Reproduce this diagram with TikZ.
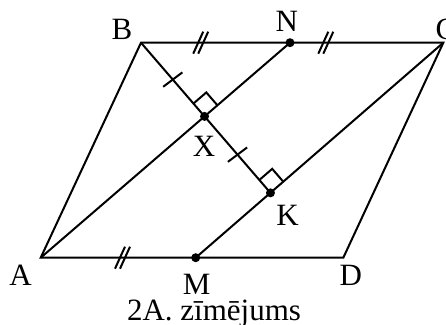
\documentclass[tikz,border=0pt]{standalone}
\usepackage{fontspec}
\setmainfont{Liberation Serif}
\usetikzlibrary{calc}
\begin{document}
\begin{tikzpicture}[x=1bp,y=-1bp,
  seg/.style={line width=2bp},
  lbl/.style={anchor=base, inner sep=0pt, font=\fontsize{31bp}{36bp}\selectfont},
  dotpt/.style={circle, fill=black, inner sep=0pt, minimum size=9bp},
  dbltick/.pic={\draw[line width=2bp] (-7.5,11)--(2.5,-11) (-2.5,11)--(7.5,-11);},
  sgltick/.pic={\draw[line width=2bp] (-9.6,7.2)--(9.6,-7.2);}]
\useasboundingbox (0,0) rectangle (446,324);
\coordinate (A) at (40.7,257.7);
\coordinate (B) at (141,42.7);
\coordinate (C) at (443.3,42.7);
\coordinate (D) at (343.3,257.7);
\coordinate (N) at (290,42.7);
\coordinate (M) at (195.7,257.7);
\coordinate (X) at ($(A)!(B)!(N)$);
\coordinate (K) at (intersection of B--X and M--C);
% sides and segments
\draw[seg] (A) -- (B) -- (C) -- (D) -- cycle;
\draw[seg] (A) -- (N);
\draw[seg] (M) -- (C);
\draw[seg] (B) -- (K);
% right angles
\coordinate (xb) at ($(X)!17bp!(B)$);
\coordinate (xn) at ($(X)!17bp!(N)$);
\draw[seg] (xb) -- ($(xb)+(xn)-(X)$) -- (xn);
\coordinate (kx) at ($(K)!17bp!(X)$);
\coordinate (kc) at ($(K)!17bp!(C)$);
\draw[seg] (kx) -- ($(kx)+(kc)-(K)$) -- (kc);
% tick marks
\pic at (200.7,42.7) {dbltick};
\pic at (325.8,42.7) {dbltick};
\pic at (122.5,257.7) {dbltick};
\pic at ($(B)!0.5!(X)$) {sgltick};
\pic at ($(X)!0.5!(K)$) {sgltick};
% points
\node[dotpt] (dN) at (N) {};
\node[dotpt] (dX) at (X) {};
\node[dotpt] (dK) at (K) {};
\node[dotpt] (dM) at (M) {};
% labels
\node[lbl] (lB) at (122,39.3) {B};
\node[lbl] (lN) at (286.7,31.7) {N};
\node[lbl] (lC) at (446,39.3) {C};
\node[lbl] (lX) at (204,156.7) {X};
\node[lbl] (lK) at (287.5,225) {K};
\node[lbl] (lA) at (20.5,285) {A};
\node[lbl] (lM) at (196.7,294) {M};
\node[lbl] (lD) at (350.8,285) {D};
\node[lbl] (cap) at (214,320) {2A. zīmējums};
\end{tikzpicture}
\end{document}
